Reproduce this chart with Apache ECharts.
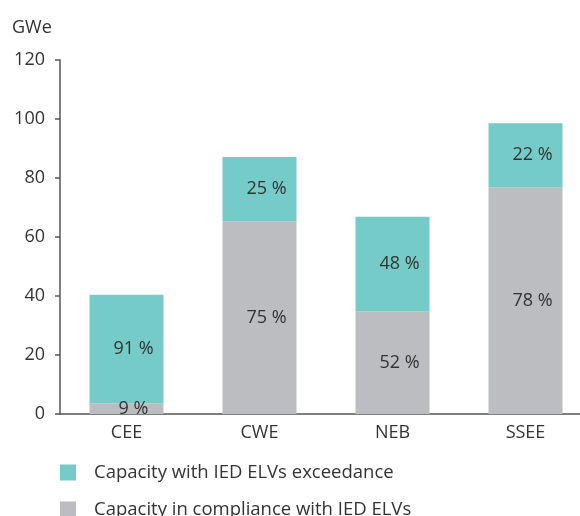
<!DOCTYPE html>
<html>
<head>
<meta charset="utf-8">
<script src="https://cdn.jsdelivr.net/npm/echarts@6/dist/echarts.min.js"></script>
<style>
  html, body { margin: 0; padding: 0; background: #fff; }
  #main { width: 580px; height: 516px; }
</style>
</head>
<body>
<div id="main"></div>
<script>
// 数据
var regions = ['CEE', 'CWE', 'NEB', 'SSEE'];
var complianceName = 'Capacity in compliance with IED ELVs';
var exceedName = 'Capacity with IED ELVs exceedance';
var complianceData = [3.6, 65.3, 34.8, 76.9];
var exceedData = [36.8, 21.8, 32.1, 21.7];
var compliancePct = [9, 75, 52, 78];
var exceedPct = [91, 25, 48, 22];
var yTicks = [0, 20, 40, 60, 80, 100, 120];

var font = '"Open Sans", "Noto Sans", sans-serif';
var textColor = '#333';
var fs = 18;

function segLabel(pct) {
    return {
        show: true,
        position: 'inside',
        offset: [7, 0],
        color: textColor,
        fontSize: fs,
        fontFamily: font,
        formatter: function (p) { return pct[p.dataIndex] + ' %'; }
    };
}

var chart = echarts.init(document.getElementById('main'));
chart.setOption({
    animation: false,
    textStyle: { fontFamily: font },
    title: {
        text: 'GWe',
        left: 7,
        top: 14,
        textStyle: { color: textColor, fontSize: fs, fontWeight: 'normal', fontFamily: font }
    },
    legend: {
        orient: 'vertical',
        left: 55,
        top: 458,
        height: 80,
        itemWidth: 16,
        itemHeight: 16,
        itemGap: 18,
        icon: 'rect',
        data: [exceedName, complianceName],
        textStyle: { color: textColor, fontSize: 18.5, fontFamily: font, padding: [0, 0, 0, 13] }
    },
    grid: { left: 60, top: 60, width: 532, height: 354, outerBoundsMode: 'none' },
    xAxis: {
        type: 'category',
        data: regions,
        axisLine: { lineStyle: { color: '#555', width: 1.5 } },
        axisTick: { show: false },
        axisLabel: { color: textColor, fontSize: fs, fontFamily: font, margin: 10 }
    },
    yAxis: {
        type: 'value',
        min: yTicks[0],
        max: yTicks[yTicks.length - 1],
        interval: 20,
        splitLine: { show: false },
        axisLine: { show: true, lineStyle: { color: '#555', width: 1.5 } },
        axisTick: { show: true, length: 5, lineStyle: { color: '#555', width: 1.5 } },
        axisLabel: { color: textColor, fontSize: fs, fontFamily: font, margin: 15 }
    },
    series: [{
        name: complianceName,
        type: 'bar',
        stack: 'cap',
        barWidth: 74,
        itemStyle: { color: '#bcbdc1' },
        label: segLabel(compliancePct),
        data: complianceData
    }, {
        name: exceedName,
        type: 'bar',
        stack: 'cap',
        barWidth: 74,
        itemStyle: { color: '#74cbc8' },
        label: segLabel(exceedPct),
        data: exceedData
    }]
});
</script>
</body>
</html>
